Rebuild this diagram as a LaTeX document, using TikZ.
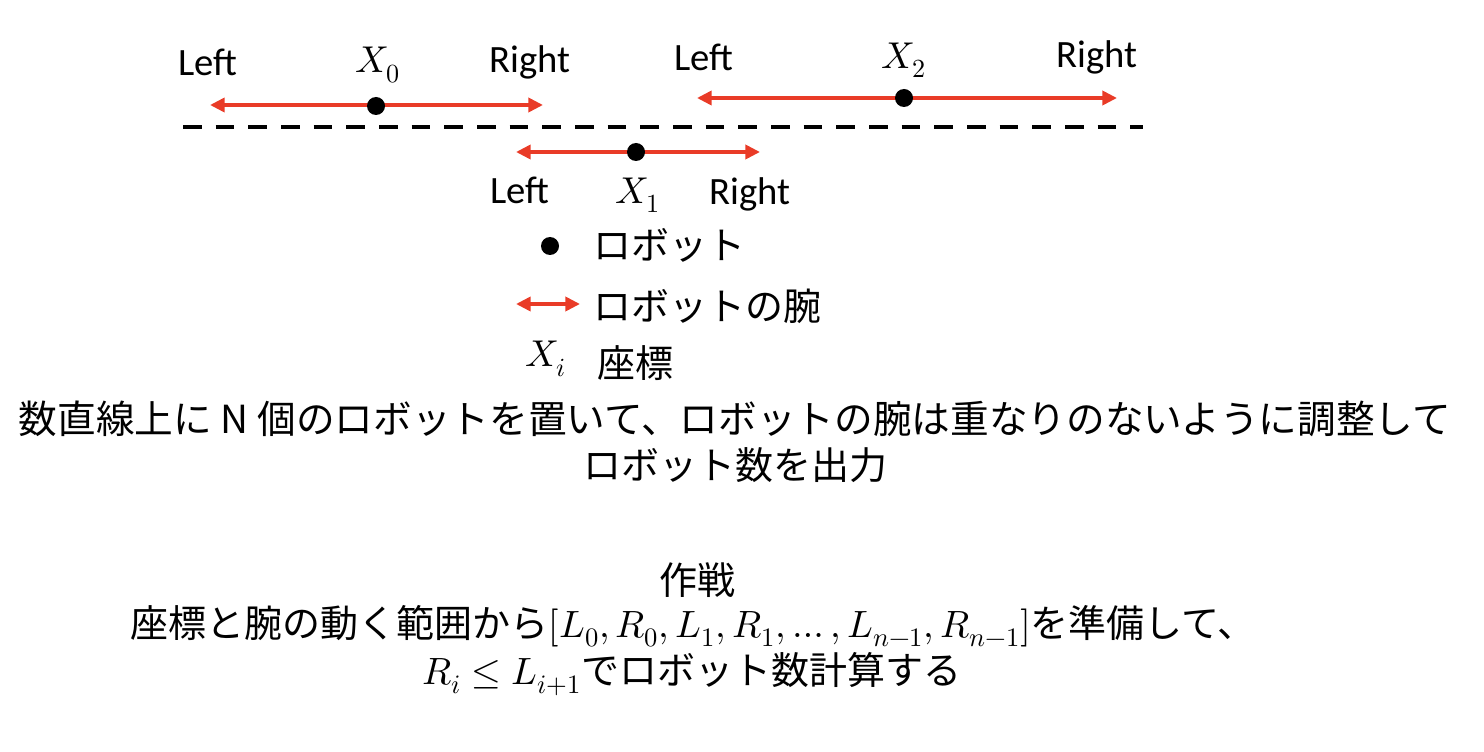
\documentclass[tikz,border=0pt]{standalone}
\usepackage{fontspec}
\usepackage{unicode-math}
\setmainfont{Carlito}
\setmathfont{Latin Modern Math}
\newfontfamily\jp{Noto Sans CJK JP}
\usetikzlibrary{arrows.meta}
\definecolor{armred}{RGB}{233,59,39}
\begin{document}
\begin{tikzpicture}[x=0.75pt,y=-0.75pt,
  arm/.style={draw=armred, line width=3pt, {Triangle[length=11pt,width=10.5pt]}-{Triangle[length=11pt,width=10.5pt]}},
  robot/.style={circle, fill=black, inner sep=0pt, minimum size=13.5pt},
  lbl/.style={font=\fontsize{29}{34}\selectfont, inner sep=0pt},
  mlbl/.style={font=\fontsize{28}{32}\selectfont, inner sep=0pt},
  jtxt/.style={font=\fontsize{28.5}{34}\selectfont\jp, inner sep=0pt},
  axis/.style={line width=3pt, dash pattern=on 14pt off 10.5pt}]
\useasboundingbox (0,0) rectangle (1484,752);

% number line
\coordinate (a0) at (183,127);
\coordinate (a1) at (1143,127);
\draw[axis] (a0) -- (a1);

% robot X0
\coordinate (l0) at (210,105);
\coordinate (r0) at (543,105);
\draw[arm] (l0) -- (r0);
\node[robot] (x0) at (376,106) {};
\node[lbl] (left0) at (208,62) {Left};
\node[mlbl] (lab0) at (378,65) {$X_0$};
\node[lbl] (right0) at (530,62) {Right};

% robot X2
\coordinate (l2) at (697,98);
\coordinate (r2) at (1117,98);
\draw[arm] (l2) -- (r2);
\node[robot] (x2) at (904,98) {};
\node[lbl] (left2) at (704,57) {Left};
\node[mlbl] (lab2) at (904,60) {$X_2$};
\node[lbl] (right2) at (1097,57) {Right};

% robot X1
\coordinate (l1) at (516,152);
\coordinate (r1) at (760,152);
\draw[arm] (l1) -- (r1);
\node[robot] (x1) at (636,152) {};
\node[lbl] (left1) at (520,190) {Left};
\node[mlbl] (lab1) at (638,195) {$X_1$};
\node[lbl] (right1) at (750,194) {Right};

% legend
\node[robot] (legdot) at (550,246) {};
\node[jtxt, anchor=west] (legrobot) at (593,245) {ロボット};
\coordinate (lla) at (516,304);
\coordinate (llb) at (580,304);
\draw[arm] (lla) -- (llb);
\node[jtxt, anchor=west] (legarm) at (593,306) {ロボットの腕};
\node[mlbl] (legx) at (546,359) {$X_i$};
\node[jtxt, anchor=west] (legcoord) at (597,363) {座標};

% description
\node[jtxt, font=\fontsize{29}{34}\selectfont\jp] (desc1) at (735,419) {数直線上に N 個のロボットを置いて、ロボットの腕は重なりのないように調整して};
\node[jtxt] (desc2) at (735,465) {ロボット数を出力};

% strategy
\node[jtxt] (strat) at (697,580) {作戦};
\node[jtxt] (strat1) at (693,626) {座標と腕の動く範囲から$[L_0,R_0,L_1,R_1,\dots,L_{n-1},R_{n-1}]$を準備して、};
\node[jtxt] (strat2) at (692,674) {$R_i\le L_{i+1}$でロボット数計算する};
\end{tikzpicture}
\end{document}
